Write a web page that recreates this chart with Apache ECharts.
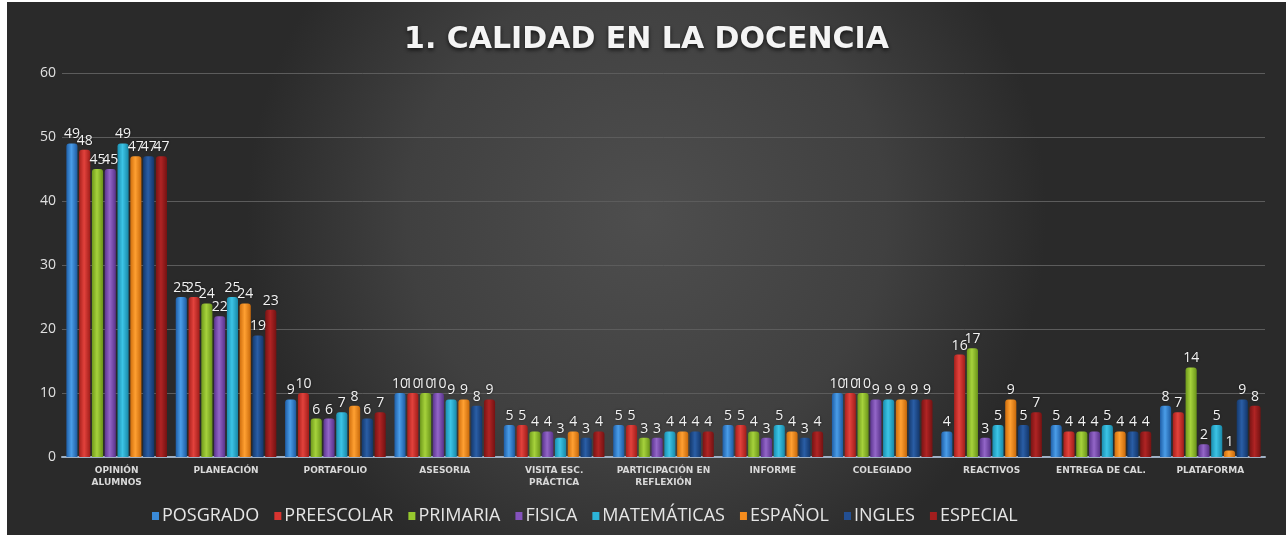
<!DOCTYPE html>
<html>
<head>
<meta charset="utf-8">
<script src="https://cdn.jsdelivr.net/npm/echarts@6/dist/echarts.min.js"></script>
<style>
html,body{margin:0;padding:0;background:#ffffff;}
#c{position:absolute;left:7px;top:2px;width:1279px;height:533px;}
</style>
</head>
<body>
<div id="c"></div>
<script>
const title = '1. CALIDAD EN LA DOCENCIA';
const categories = ['OPINIÓN\nALUMNOS','PLANEACIÓN','PORTAFOLIO','ASESORIA','VISITA ESC.\nPRÁCTICA','PARTICIPACIÓN EN\nREFLEXIÓN','INFORME','COLEGIADO','REACTIVOS','ENTREGA DE CAL.','PLATAFORMA'];
const seriesNames = ['POSGRADO','PREESCOLAR','PRIMARIA','FISICA','MATEMÁTICAS','ESPAÑOL','INGLES','ESPECIAL'];
const posgrado    = [49,25,9,10,5,5,5,10,4,5,8];
const preescolar  = [48,25,10,10,5,5,5,10,16,4,7];
const primaria    = [45,24,6,10,4,3,4,10,17,4,14];
const fisica      = [45,22,6,10,4,3,3,9,3,4,2];
const matematicas = [49,25,7,9,3,4,5,9,5,5,5];
const espanol     = [47,24,8,9,4,4,4,9,9,4,1];
const ingles      = [47,19,6,8,3,4,3,9,5,4,9];
const especial    = [47,23,7,9,4,4,4,9,7,4,8];
const yTicks = [0,10,20,30,40,50,60];

const seriesData = [posgrado,preescolar,primaria,fisica,matematicas,espanol,ingles,especial];
const baseColors = [
  ['#1f5fa8','#4a9de8','#1d5aa0'],
  ['#a8201c','#e2423c','#a01d1a'],
  ['#6f9a1c','#a6d23c','#6a9419'],
  ['#5c3590','#9366c8','#58328a'],
  ['#1a8fb0','#3cc4e6','#1888a8'],
  ['#d06e0c','#ffa032','#c8690a'],
  ['#153a6e','#2a5ea6','#13366a'],
  ['#7a1414','#b02424','#741212']
];
const legendColors = ['#3a8ad8','#d83430','#96c82e','#8452bc','#2cb4d8','#f58c1e','#234f92','#a21e1e'];

const chart = echarts.init(document.getElementById('c'));
const series = seriesNames.map((name,i)=>({
  name: name,
  type: 'bar',
  data: seriesData[i],
  barGap: '15%',
  barCategoryGap: '8%',
  itemStyle: {
    color: new echarts.graphic.LinearGradient(0,0,1,0,[
      {offset:0,color:baseColors[i][0]},
      {offset:0.45,color:baseColors[i][1]},
      {offset:1,color:baseColors[i][2]}
    ]),
    borderRadius: [3,3,0,0]
  },
  label: {
    show: true,
    position: 'top',
    distance: 2,
    color: '#f2f2f2',
    fontSize: 14,
    fontFamily: 'Open Sans',
    textShadowColor: 'rgba(0,0,0,0.6)',
    textShadowBlur: 3
  }
}));

chart.setOption({
  backgroundColor: {
    type: 'radial', x: 0.5, y: 0.4, r: 0.75,
    colorStops: [{offset:0,color:'#4e4e4e'},{offset:0.6,color:'#404040'},{offset:1,color:'#2a2a2a'}]
  },
  title: {
    text: title,
    left: 'center',
    top: 18,
    textStyle: {
      color: '#f4f4f4', fontSize: 30, fontWeight: 'bold', fontFamily: 'DejaVu Sans',
      textShadowColor: 'rgba(0,0,0,0.7)', textShadowBlur: 4, textShadowOffsetY: 2
    }
  },
  legend: {
    bottom: 5,
    left: 140,
    itemWidth: 7,
    itemHeight: 8,
    itemGap: 15,
    icon: 'rect',
    data: seriesNames.map((n,i)=>({name:n, itemStyle:{color:legendColors[i]}})),
    textStyle: {color:'#e6e6e6', fontSize: 18, fontFamily: 'Open Sans', padding:[0,0,0,-2]}
  },
  grid: {left: 55, right: 21, top: 71, bottom: 78},
  xAxis: {
    type: 'category',
    data: categories,
    axisLine: {lineStyle: {color: '#9fb0c4', width: 2}},
    axisTick: {show: false},
    axisLabel: {color: '#d9d9d9', fontSize: 9, fontWeight: 'bold', fontFamily: 'DejaVu Sans', lineHeight: 12, margin: 8, interval: 0}
  },
  yAxis: {
    type: 'value',
    min: yTicks[0],
    max: yTicks[yTicks.length-1],
    interval: 10,
    axisLine: {show: false},
    axisTick: {show: false},
    axisLabel: {color: '#e0e0e0', fontSize: 14, fontFamily: 'Open Sans', margin: 6},
    splitLine: {lineStyle: {color: '#5c5c5c', width: 1}}
  },
  series: series
});
</script>
</body>
</html>
